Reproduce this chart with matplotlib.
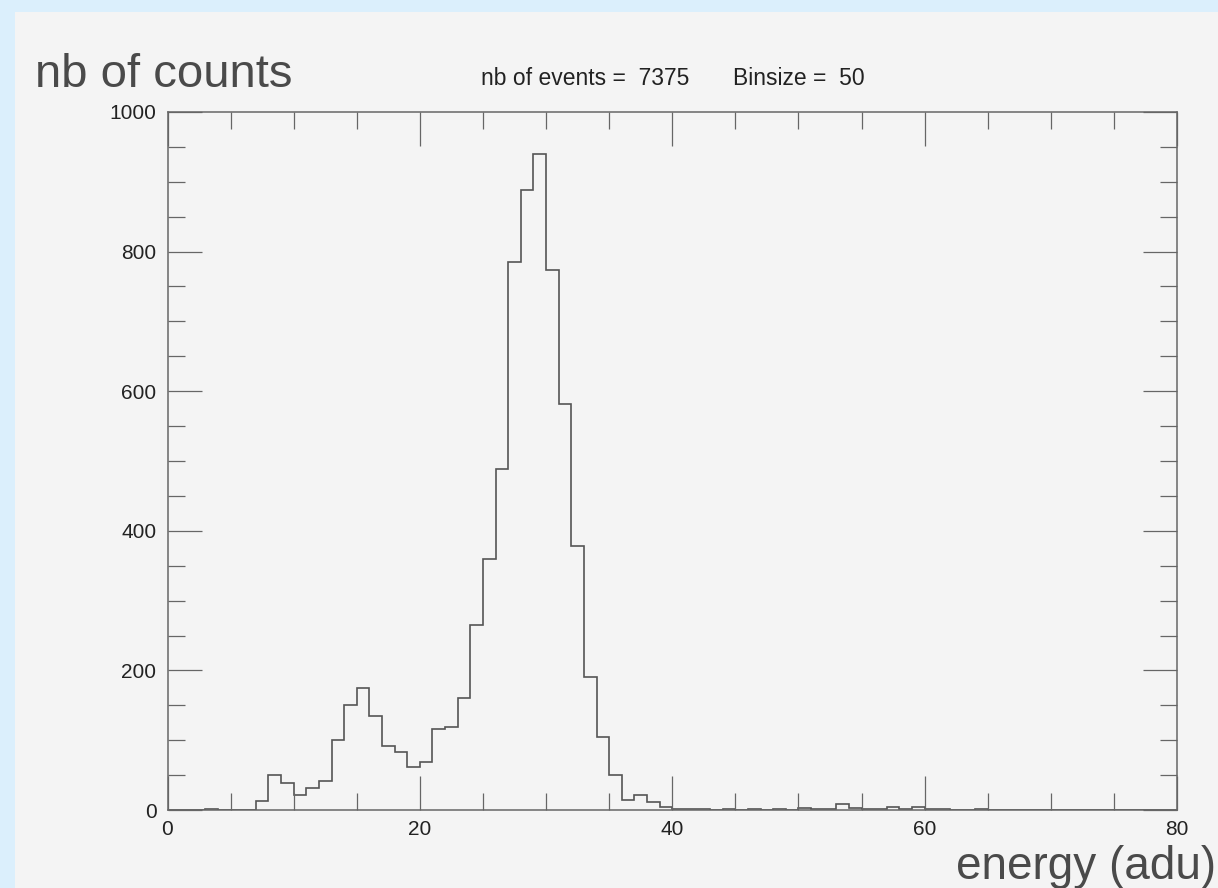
import numpy as np
import matplotlib
matplotlib.use("Agg")
import matplotlib.pyplot as plt
from matplotlib.patches import Rectangle
from matplotlib.ticker import MultipleLocator

# histogram data: 1 adu wide bins from 0 to 80
bin_edges = np.arange(0, 81, 1)
counts = [0, 0, 0, 1, 0, 0, 0, 13, 50, 38,
          22, 31, 42, 100, 150, 175, 134, 92, 83, 62,
          69, 116, 119, 160, 265, 360, 489, 785, 888, 940,
          774, 581, 378, 191, 104, 50, 14, 21, 11, 5,
          1, 2, 1, 0, 1, 0, 1, 0, 1, 0,
          3, 2, 2, 8, 3, 1, 1, 5, 1, 4,
          1, 1, 0, 0, 1, 0, 0, 0, 0, 0,
          0, 0, 0, 0, 0, 0, 0, 0, 0, 0]
n_events = 7375
binsize = 50

W, H = 1218, 888
plt.rcParams['font.family'] = ['Liberation Sans', 'DejaVu Sans']

fig = plt.figure(figsize=(W / 100, H / 100), dpi=100, facecolor='#dbeffc')
# light grey panel behind everything
fig.patches.append(Rectangle((15 / W, 0), 1 - 15 / W, 1 - 12 / H,
                             transform=fig.transFigure, facecolor='#f4f4f4',
                             edgecolor='none', zorder=-5))

ax = fig.add_axes([167.5 / W, (H - 810) / H, (1177 - 167.5) / W, (810 - 112) / H])
ax.set_facecolor('none')
ax.set_zorder(2)

ax.stairs(counts, bin_edges, color='#555555', linewidth=1.2)

ax.set_xlim(0, 80)
ax.set_ylim(0, 1000)
ax.xaxis.set_major_locator(MultipleLocator(20))
ax.xaxis.set_minor_locator(MultipleLocator(5))
ax.yaxis.set_major_locator(MultipleLocator(200))
ax.yaxis.set_minor_locator(MultipleLocator(50))
ax.tick_params(which='both', direction='in', top=True, right=True,
               color='#666666', width=0.9, labelsize=15, labelcolor='#222222')
ax.tick_params(which='major', length=24.5)
ax.tick_params(which='minor', length=12.2)
ax.tick_params(axis='x', pad=7)
ax.tick_params(axis='y', pad=8)
for s in ax.spines.values():
    s.set_color('#666666')
    s.set_linewidth(1.1)

fig.text(35 / W, (H - 87) / H, 'nb of counts', fontsize=34, color='#4a4a4a',
         va='baseline', ha='left')
fig.text(1216 / W, 9 / H, 'energy (adu)', fontsize=33, color='#4a4a4a',
         va='baseline', ha='right')
fig.text(481 / W, (H - 85) / H, f'nb of events =  {n_events}', fontsize=16.5,
         color='#222222', va='baseline', ha='left')
fig.text(733 / W, (H - 85) / H, f'Binsize =  {binsize}', fontsize=16.5,
         color='#222222', va='baseline', ha='left')

fig.savefig('out.png', dpi=100, facecolor=fig.get_facecolor())
